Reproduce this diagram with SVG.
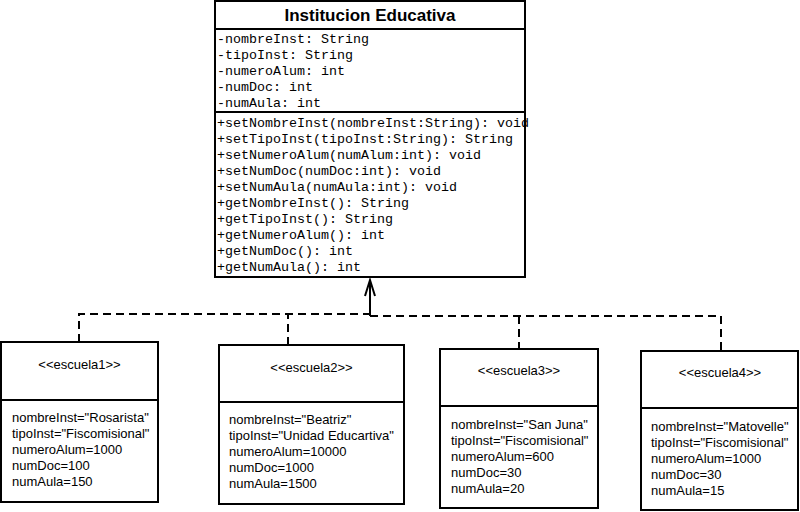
<svg xmlns="http://www.w3.org/2000/svg" width="800" height="512" viewBox="0 0 800 512">
<style>
.box{fill:#fff;stroke:#000;stroke-width:2}
.ln{stroke:#000;stroke-width:2;fill:none}
.title{font-family:"Liberation Sans",Arial,sans-serif;font-weight:bold;font-size:17px;text-anchor:middle;fill:#000}
.mono{font-family:"Liberation Mono","Courier New",monospace;font-size:13.33px;fill:#000}
.sans{font-family:"Liberation Sans",Arial,sans-serif;font-size:13px;fill:#000}
.ster{font-family:"Liberation Sans",Arial,sans-serif;font-size:13px;fill:#000;text-anchor:middle}
.dash{stroke:#000;stroke-width:2;fill:none;stroke-dasharray:8 5}
</style>
<rect width="800" height="512" fill="#fff"/>
<g id="connectors">
<polyline class="dash" points="79,342 79,314 370,314"/>
<line class="dash" x1="288" y1="345" x2="288" y2="314"/>
<polyline class="dash" points="370,316 721,316 721,351"/>
<line class="dash" x1="519" y1="316" x2="519" y2="349"/>
<line class="ln" x1="370" y1="316" x2="370" y2="280"/>
<polyline class="ln" points="365,296 370,280 375,296"/>
</g>
<g id="institucion">
<rect class="box" x="215" y="1" width="310" height="276"/>
<line class="ln" x1="215" y1="29" x2="525" y2="29"/>
<line class="ln" x1="215" y1="112" x2="525" y2="112"/>
<text class="title" x="370" y="21">Institucion Educativa</text>
<text class="mono" x="217" y="43">-nombreInst: String</text>
<text class="mono" x="217" y="59">-tipoInst: String</text>
<text class="mono" x="217" y="75">-numeroAlum: int</text>
<text class="mono" x="217" y="91">-numDoc: int</text>
<text class="mono" x="217" y="107">-numAula: int</text>
<text class="mono" x="217" y="127">+setNombreInst(nombreInst:String): void</text>
<text class="mono" x="217" y="143">+setTipoInst(tipoInst:String): String</text>
<text class="mono" x="217" y="159">+setNumeroAlum(numAlum:int): void</text>
<text class="mono" x="217" y="175">+setNumDoc(numDoc:int): void</text>
<text class="mono" x="217" y="191">+setNumAula(numAula:int): void</text>
<text class="mono" x="217" y="207">+getNombreInst(): String</text>
<text class="mono" x="217" y="223">+getTipoInst(): String</text>
<text class="mono" x="217" y="239">+getNumeroAlum(): int</text>
<text class="mono" x="217" y="255">+getNumDoc(): int</text>
<text class="mono" x="217" y="271">+getNumAula(): int</text>
</g>
<g id="escuela1">
<rect class="box" x="1" y="342" width="157" height="160"/>
<line class="ln" x1="1" y1="400" x2="158" y2="400"/>
<text class="ster" x="79.5" y="369">&lt;&lt;escuela1&gt;&gt;</text>
<text class="sans" x="12" y="422">nombreInst="Rosarista"</text>
<text class="sans" x="12" y="438">tipoInst="Fiscomisional"</text>
<text class="sans" x="12" y="454">numeroAlum=1000</text>
<text class="sans" x="12" y="470">numDoc=100</text>
<text class="sans" x="12" y="486">numAula=150</text>
</g>
<g id="escuela2">
<rect class="box" x="219" y="345" width="185" height="159"/>
<line class="ln" x1="219" y1="402" x2="404" y2="402"/>
<text class="ster" x="311.5" y="372">&lt;&lt;escuela2&gt;&gt;</text>
<text class="sans" x="229" y="424">nombreInst="Beatriz"</text>
<text class="sans" x="229" y="440">tipoInst="Unidad Educartiva"</text>
<text class="sans" x="229" y="456">numeroAlum=10000</text>
<text class="sans" x="229" y="472">numDoc=1000</text>
<text class="sans" x="229" y="488">numAula=1500</text>
</g>
<g id="escuela3">
<rect class="box" x="440" y="349" width="158" height="159"/>
<line class="ln" x1="440" y1="406" x2="598" y2="406"/>
<text class="ster" x="519" y="375">&lt;&lt;escuela3&gt;&gt;</text>
<text class="sans" x="451" y="429">nombreInst="San Juna"</text>
<text class="sans" x="451" y="445">tipoInst="Fiscomisional"</text>
<text class="sans" x="451" y="461">numeroAlum=600</text>
<text class="sans" x="451" y="477">numDoc=30</text>
<text class="sans" x="451" y="493">numAula=20</text>
</g>
<g id="escuela4">
<rect class="box" x="641" y="351" width="157" height="159"/>
<line class="ln" x1="641" y1="408" x2="798" y2="408"/>
<text class="ster" x="720" y="377">&lt;&lt;escuela4&gt;&gt;</text>
<text class="sans" x="651" y="431">nombreInst="Matovelle"</text>
<text class="sans" x="651" y="447">tipoInst="Fiscomisional"</text>
<text class="sans" x="651" y="463">numeroAlum=1000</text>
<text class="sans" x="651" y="479">numDoc=30</text>
<text class="sans" x="651" y="495">numAula=15</text>
</g>
</svg>
